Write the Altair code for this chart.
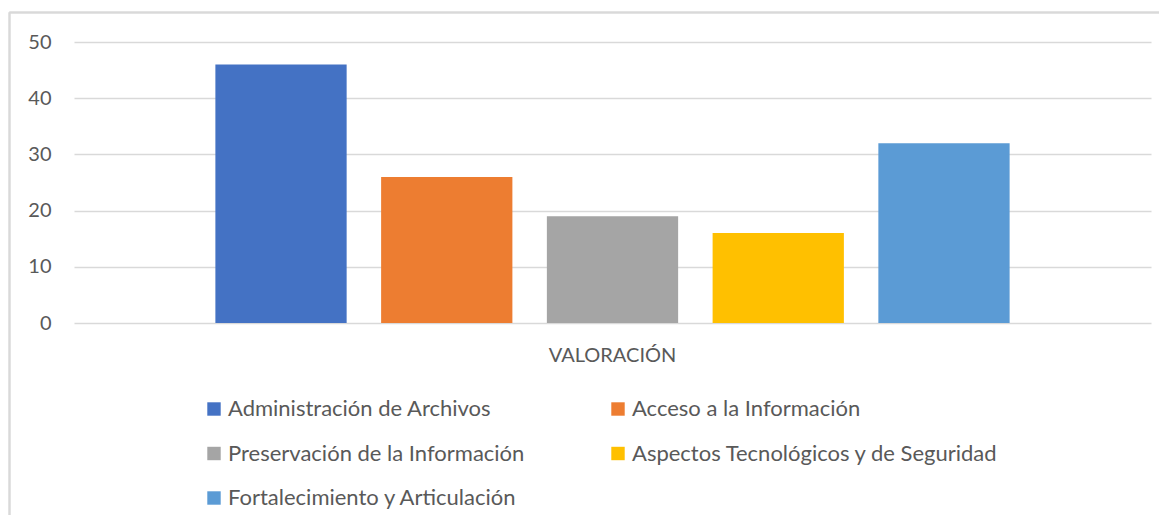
import altair as alt
import pandas as pd

categories = ["VALORACIÓN"] * 5
series = [
    "Administración de Archivos",
    "Acceso a la Información",
    "Preservación de la Información",
    "Aspectos Tecnológicos y de Seguridad",
    "Fortalecimiento y Articulación",
]
values = [46, 26, 19, 16, 32]
colors = ["#4472C4", "#ED7D31", "#A5A5A5", "#FFC000", "#5B9BD5"]
y_ticks = [0, 10, 20, 30, 40, 50]

df = pd.DataFrame({"cat": categories, "serie": series, "valor": values})

FONT = "Lato"
TEXT = "#595959"
GRID = "#D9D9D9"

bars = alt.Chart(df).mark_bar().encode(
    x=alt.X(
        "cat:N",
        title=None,
        scale=alt.Scale(paddingInner=0, paddingOuter=0.178),
        axis=alt.Axis(
            domain=False, ticks=False, labelAngle=0, labelPadding=22,
            labelFontSize=20, labelColor=TEXT, labelFont=FONT, grid=False,
        ),
    ),
    xOffset=alt.XOffset(
        "serie:N", sort=series,
        scale=alt.Scale(paddingInner=0.208, paddingOuter=0),
    ),
    y=alt.Y(
        "valor:Q",
        title=None,
        scale=alt.Scale(domain=[0, 50], nice=False),
        axis=alt.Axis(
            values=y_ticks, domain=False, ticks=False, grid=True,
            gridColor=GRID, gridWidth=1.5, labelPadding=23,
            labelFontSize=20, labelColor=TEXT, labelFont=FONT,
        ),
    ),
    color=alt.Color(
        "serie:N", sort=series,
        scale=alt.Scale(domain=series, range=colors),
        legend=alt.Legend(
            title=None, orient="none", legendX=129, legendY=356,
            direction="horizontal", columns=2, columnPadding=82,
            rowPadding=22.5, symbolType="square", symbolSize=180,
            symbolStrokeWidth=0, labelFontSize=22, labelColor=TEXT,
            labelFont=FONT, labelOffset=3, padding=0, labelLimit=500,
        ),
    ),
)

border_left = alt.Chart(df).mark_rule(color=GRID, strokeWidth=1.5).encode(
    x=alt.value(-64.5), y=alt.value(-29.5), y2=alt.value(700)
)
border_top = alt.Chart(df).mark_rule(color=GRID, strokeWidth=1.5).encode(
    x=alt.value(-64.5), x2=alt.value(1200), y=alt.value(-29.5)
)

chart = alt.layer(bars, border_left, border_top).properties(
    width=1077, height=281,
    autosize=alt.AutoSizeParams(type="none"),
    padding={"left": 66, "top": 34, "right": 8, "bottom": 192},
).configure(background="white").configure_view(stroke=None)

chart.save("out.html", embed_options={"renderer": "svg", "actions": False})
